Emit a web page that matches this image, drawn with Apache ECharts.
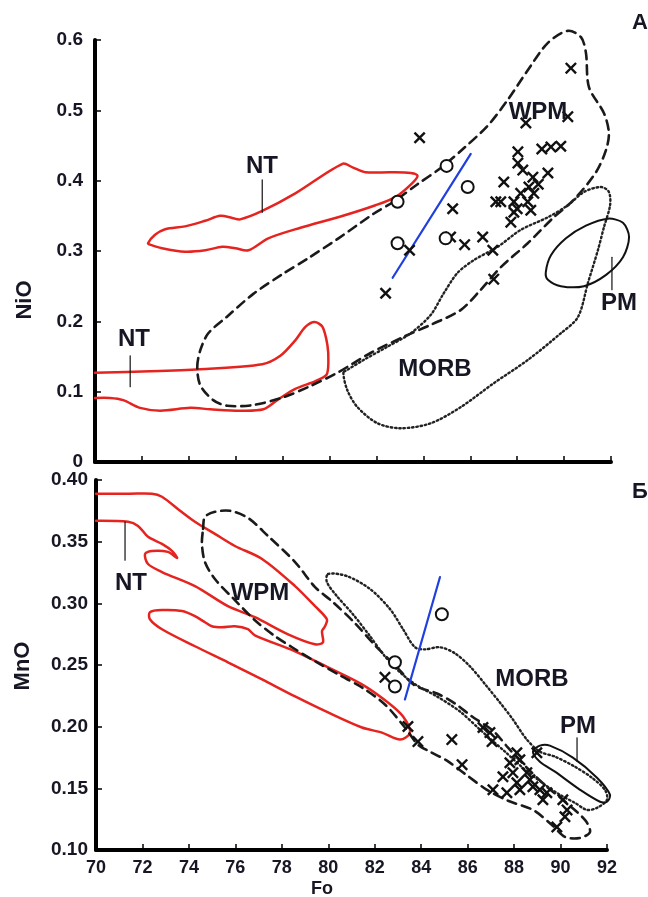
<!DOCTYPE html>
<html><head><meta charset="utf-8">
<script src="https://cdn.jsdelivr.net/npm/echarts@6/dist/echarts.min.js"></script>
<style>html,body{margin:0;padding:0;background:#fff}#c{width:648px;height:897px}</style>
</head><body><div id="c"></div>
<script>
// ---------- Panel A (NiO vs Fo) ----------
const ntUpperA = [[72.26,0.311],[72.56,0.323],[72.99,0.331],[73.84,0.335],[74.70,0.343],[75.34,0.350],[75.85,0.347],[76.19,0.345],[77.13,0.357],[78.54,0.382],[80.55,0.424],[80.98,0.419],[81.53,0.412],[82.60,0.412],[83.46,0.411],[83.75,0.407],[83.54,0.397],[82.82,0.377],[81.96,0.365],[80.47,0.349],[78.76,0.333],[77.39,0.318],[76.54,0.301],[75.98,0.304],[75.43,0.306],[74.70,0.301],[73.84,0.299],[72.86,0.304],[72.35,0.309]];
const ntLowerA = [[70.00,0.127],[72.35,0.129],[74.49,0.132],[77.13,0.139],[77.90,0.151],[78.54,0.173],[78.97,0.192],[79.36,0.199],[79.70,0.192],[79.91,0.166],[79.95,0.142],[79.87,0.124],[79.40,0.115],[78.54,0.104],[77.77,0.088],[77.18,0.075],[76.19,0.073],[74.91,0.075],[74.06,0.077],[72.78,0.073],[71.92,0.077],[71.20,0.088],[70.64,0.091],[70.00,0.091]];
const wpmA = [[74.36,0.135],[74.49,0.159],[74.83,0.183],[75.64,0.207],[76.75,0.239],[77.99,0.267],[79.10,0.290],[80.38,0.318],[81.88,0.353],[82.73,0.370],[83.75,0.395],[84.74,0.418],[85.72,0.446],[86.74,0.478],[87.60,0.515],[88.45,0.557],[89.31,0.596],[90.16,0.613],[90.72,0.604],[90.93,0.582],[91.06,0.533],[91.70,0.496],[91.91,0.468],[91.79,0.444],[91.36,0.412],[90.42,0.373],[89.56,0.348],[88.45,0.311],[87.30,0.277],[86.45,0.245],[85.59,0.216],[84.31,0.195],[83.16,0.178],[81.75,0.155],[80.34,0.127],[79.18,0.108],[78.03,0.092],[76.75,0.081],[75.64,0.080],[75.04,0.088],[74.49,0.109]];
const morbA = [[80.59,0.127],[80.76,0.102],[81.19,0.078],[82.05,0.055],[83.03,0.048],[84.31,0.055],[85.59,0.078],[87.00,0.112],[88.45,0.145],[89.86,0.183],[90.59,0.206],[91.02,0.255],[91.44,0.301],[91.70,0.334],[91.96,0.365],[91.91,0.384],[91.57,0.391],[90.85,0.384],[90.16,0.365],[89.31,0.348],[88.15,0.330],[87.17,0.306],[86.15,0.287],[85.46,0.269],[84.87,0.240],[84.31,0.209],[83.46,0.183],[82.47,0.164],[81.45,0.145],[80.76,0.131]];
const pmA = [[89.22,0.270],[89.44,0.294],[90.08,0.318],[90.93,0.336],[91.87,0.346],[92.51,0.340],[92.77,0.320],[92.51,0.291],[91.79,0.266],[90.85,0.250],[89.86,0.250],[89.31,0.259]];
const trendA = [[82.69,0.262],[86.02,0.438]];
const circlesA = [[84.99,0.421],[85.89,0.391],[82.90,0.370],[82.90,0.311],[84.95,0.318]];
const crossesA = [[90.29,0.560],[90.16,0.491],[88.37,0.482],[83.84,0.461],[88.03,0.441],[89.05,0.445],[89.44,0.448],[89.86,0.449],[89.31,0.411],[87.43,0.398],[88.24,0.415],[88.03,0.425],[88.67,0.405],[88.50,0.391],[88.71,0.382],[88.15,0.382],[87.09,0.370],[87.30,0.370],[87.86,0.370],[88.45,0.370],[88.58,0.358],[87.86,0.355],[87.73,0.341],[85.25,0.360],[83.41,0.301],[82.39,0.240],[85.16,0.320],[85.76,0.309],[86.53,0.320],[86.96,0.301],[87.00,0.260],[88.90,0.395],[88.00,0.360]];
const leadersA = [[[77.13,0.401],[77.13,0.355]],[[71.50,0.151],[71.50,0.107]],[[92.04,0.291],[92.04,0.245]]];

// ---------- Panel Б (MnO vs Fo) ----------
const ntOuterB = [[70.00,0.3889],[71.46,0.3889],[72.41,0.3889],[72.84,0.3864],[73.62,0.3750],[74.26,0.3661],[75.12,0.3563],[75.98,0.3465],[77.15,0.3360],[78.57,0.3140],[79.43,0.2977],[79.94,0.2871],[79.86,0.2814],[79.73,0.2774],[79.77,0.2684],[79.43,0.2668],[78.27,0.2749],[76.84,0.2888],[75.68,0.2977],[74.26,0.3140],[72.84,0.3254],[72.24,0.3319],[72.11,0.3400],[72.41,0.3425],[73.10,0.3417],[73.49,0.3368],[73.27,0.3425],[72.84,0.3482],[72.24,0.3539],[71.81,0.3628],[71.38,0.3661],[70.00,0.3669]];
const ntLowerB = [[72.32,0.2928],[72.84,0.2945],[73.70,0.2937],[74.26,0.2896],[74.69,0.2847],[74.99,0.2814],[75.42,0.2806],[75.98,0.2814],[76.54,0.2790],[76.84,0.2741],[78.57,0.2611],[79.99,0.2481],[81.45,0.2343],[82.57,0.2196],[83.22,0.2082],[83.52,0.1952],[83.09,0.1895],[82.31,0.1952],[81.45,0.1993],[79.99,0.2115],[78.57,0.2245],[77.15,0.2383],[75.68,0.2522],[74.26,0.2652],[72.84,0.2790],[72.32,0.2871]];
const wpmB = [[74.61,0.3604],[74.69,0.3701],[75.12,0.3742],[75.77,0.3750],[76.54,0.3693],[77.40,0.3547],[78.57,0.3335],[79.43,0.3132],[80.20,0.3010],[81.15,0.2839],[82.01,0.2660],[82.96,0.2481],[83.73,0.2334],[84.68,0.2269],[85.45,0.2188],[86.19,0.2082],[87.09,0.1968],[87.74,0.1830],[88.55,0.1667],[89.41,0.1513],[90.10,0.1407],[91.05,0.1244],[91.27,0.1146],[90.84,0.1098],[90.19,0.1106],[89.63,0.1203],[88.81,0.1325],[87.74,0.1399],[86.83,0.1488],[85.88,0.1618],[85.11,0.1724],[84.38,0.1797],[83.86,0.1854],[83.30,0.1993],[82.44,0.2180],[81.45,0.2318],[80.50,0.2416],[79.43,0.2530],[78.44,0.2644],[77.71,0.2733],[76.84,0.2863],[75.98,0.3026],[75.12,0.3197],[74.69,0.3335],[74.56,0.3482]];
const morbB = [[79.99,0.3238],[80.80,0.3221],[81.80,0.3116],[82.66,0.2953],[83.22,0.2790],[83.73,0.2644],[84.16,0.2627],[84.81,0.2644],[85.45,0.2595],[86.10,0.2489],[86.83,0.2326],[87.39,0.2196],[87.95,0.2058],[88.55,0.1895],[89.11,0.1797],[89.76,0.1757],[90.62,0.1675],[91.35,0.1586],[91.91,0.1488],[92.00,0.1407],[91.57,0.1342],[91.14,0.1325],[90.62,0.1382],[89.97,0.1448],[89.33,0.1529],[88.47,0.1651],[87.61,0.1797],[86.53,0.1976],[85.67,0.2123],[84.68,0.2245],[83.82,0.2334],[83.09,0.2440],[82.44,0.2570],[81.80,0.2733],[81.06,0.2912],[80.37,0.3059],[79.94,0.3173]];
const pmB = [[88.81,0.1797],[89.11,0.1846],[89.54,0.1846],[90.53,0.1749],[91.57,0.1586],[92.13,0.1448],[92.00,0.1391],[91.70,0.1391],[90.84,0.1488],[89.76,0.1635],[89.11,0.1716]];
const trendB = [[83.30,0.2220],[84.81,0.3213]];
const circlesB = [[84.89,0.2912],[82.87,0.2522],[82.87,0.2326]];
const crossesB = [[82.44,0.2400],[83.43,0.2001],[83.86,0.1879],[85.32,0.1895],[85.76,0.1692],[86.66,0.1993],[86.96,0.1952],[87.05,0.1879],[87.09,0.1488],[88.12,0.1789],[87.82,0.1708],[88.25,0.1732],[87.52,0.1594],[87.95,0.1627],[88.55,0.1627],[88.12,0.1545],[88.68,0.1570],[88.25,0.1488],[88.98,0.1789],[89.11,0.1488],[89.41,0.1464],[89.24,0.1407],[90.10,0.1407],[90.28,0.1325],[90.19,0.1269],[89.84,0.1187],[88.81,0.1513],[87.69,0.1464]];
const leadersB = [[[71.25,0.366],[71.25,0.335]],[[90.71,0.191],[90.71,0.172]]];

const FONT = '"Liberation Sans", Arial, sans-serif';
const RED = '#e52420', BLUE = '#1f3fe0';
const CROSS = 'path://M0,1.7L1.7,0L6,4.3L10.3,0L12,1.7L7.7,6L12,10.3L10.3,12L6,7.7L1.7,12L0,10.3L4.3,6Z';

// outline drawn through the axes' own coordinate conversion (api.coord)
function shape(data, idx, style, closed, smooth){
  return {type:'custom', data, xAxisIndex:idx, yAxisIndex:idx, encode:{x:0, y:1}, clip:false, silent:true, z:2,
    renderItem:(params, api) => {
      if (params.dataIndex !== 0) return null;
      const pts = data.map(p => api.coord(p));
      return {type: closed ? 'polygon' : 'polyline', shape:{points:pts, smooth: smooth == null ? 0.3 : smooth},
        style:{stroke:style.color, lineWidth:style.width, lineDash:style.dash || null, fill:null, lineCap:'round', lineJoin:'round'}};
    }};
}
const redStyle = {color:RED, width:2.5};
const dashStyle = {color:'#1a1a1a', width:2.6, dash:[9,6]};
const dotStyle = {color:'#222', width:2.4, dash:[1.5,2.8]};
const pmStyle = {color:'#111', width:2};
const leadStyle = {color:'#111', width:1.2};

const series = [];
series.push(shape(ntUpperA,0,redStyle,true));
series.push(shape(ntLowerA,0,redStyle,false));
series.push(shape(ntOuterB,1,redStyle,false));
series.push(shape(ntLowerB,1,redStyle,true));
series.push(shape(wpmA,0,dashStyle,true));
series.push(shape(wpmB,1,dashStyle,true));
series.push(shape(morbA,0,dotStyle,true));
series.push(shape(morbB,1,dotStyle,true));
series.push(shape(pmA,0,pmStyle,true));
series.push(shape(pmB,1,pmStyle,true));
series.push(shape(trendA,0,{color:BLUE,width:2.2},false,0));
series.push(shape(trendB,1,{color:BLUE,width:2.2},false,0));
leadersA.forEach(d=>series.push(shape(d,0,leadStyle,false,0)));
leadersB.forEach(d=>series.push(shape(d,1,leadStyle,false,0)));
[[crossesA,0],[crossesB,1]].forEach(([d,i])=>series.push({type:'scatter', data:d, xAxisIndex:i, yAxisIndex:i, symbol:CROSS, symbolSize:12, clip:false, silent:true, itemStyle:{color:'#111', opacity:1}, z:4}));
[[circlesA,0],[circlesB,1]].forEach(([d,i])=>series.push({type:'scatter', data:d, xAxisIndex:i, yAxisIndex:i, symbol:'emptyCircle', symbolSize:12, clip:false, silent:true, itemStyle:{color:'#111', borderColor:'#111', borderWidth:2.4, opacity:1}, z:4}));

const axisLine = {show:true, onZero:false, lineStyle:{color:'#000', width:4}};
const axisTick = {show:true, inside:true, length:6, lineStyle:{color:'#000', width:1.5}};
const lbl = {fontFamily:FONT, fontWeight:'bold', color:'#161624'};

function txt(x,y,text,size,extra){
  return Object.assign({type:'text', x, y, style:{text, font:'bold '+size+'px '+FONT, fill:'#161624', align:'center', verticalAlign:'middle'}, z:10}, extra||{});
}

const option = {
  animation:false,
  backgroundColor:'#fff',
  grid:[{left:95, top:40, width:516, height:422}, {left:96, top:480, width:511, height:370}],
  xAxis:[
    {gridIndex:0, type:'value', min:70, max:92, interval:2, axisLine, axisTick, axisLabel:{show:false}, splitLine:{show:false}},
    {gridIndex:1, type:'value', min:70, max:92, interval:2, axisLine, axisTick, axisLabel:Object.assign({fontSize:18, margin:9}, lbl), splitLine:{show:false}}
  ],
  yAxis:[
    {gridIndex:0, type:'value', min:0, max:0.6, interval:0.1, axisLine, axisTick, splitLine:{show:false},
     axisLabel:Object.assign({fontSize:19, margin:12, formatter:v=>v===0?'0':v.toFixed(1)}, lbl)},
    {gridIndex:1, type:'value', min:0.10, max:0.40, interval:0.05, axisLine, axisTick, splitLine:{show:false},
     axisLabel:Object.assign({fontSize:19, margin:8, formatter:v=>v.toFixed(2)}, lbl)}
  ],
  series,
  graphic:[
    txt(25,300,'NiO',22,{rotation:Math.PI/2}),
    txt(23,666,'MnO',22,{rotation:Math.PI/2}),
    txt(322,889,'Fo',18),
    txt(640,23,'А',22),
    txt(640,492,'Б',22),
    txt(262,166,'NT',24),
    txt(134,339,'NT',24),
    txt(538,112,'WPM',24),
    txt(435,369,'MORB',24),
    txt(619,303,'PM',24),
    txt(131,583,'NT',24),
    txt(260,593,'WPM',24),
    txt(532,679,'MORB',24),
    txt(578,726,'PM',24)
  ]
};
const chart = echarts.init(document.getElementById('c'), null, {renderer:'canvas'});
chart.setOption(option);
</script></body></html>
